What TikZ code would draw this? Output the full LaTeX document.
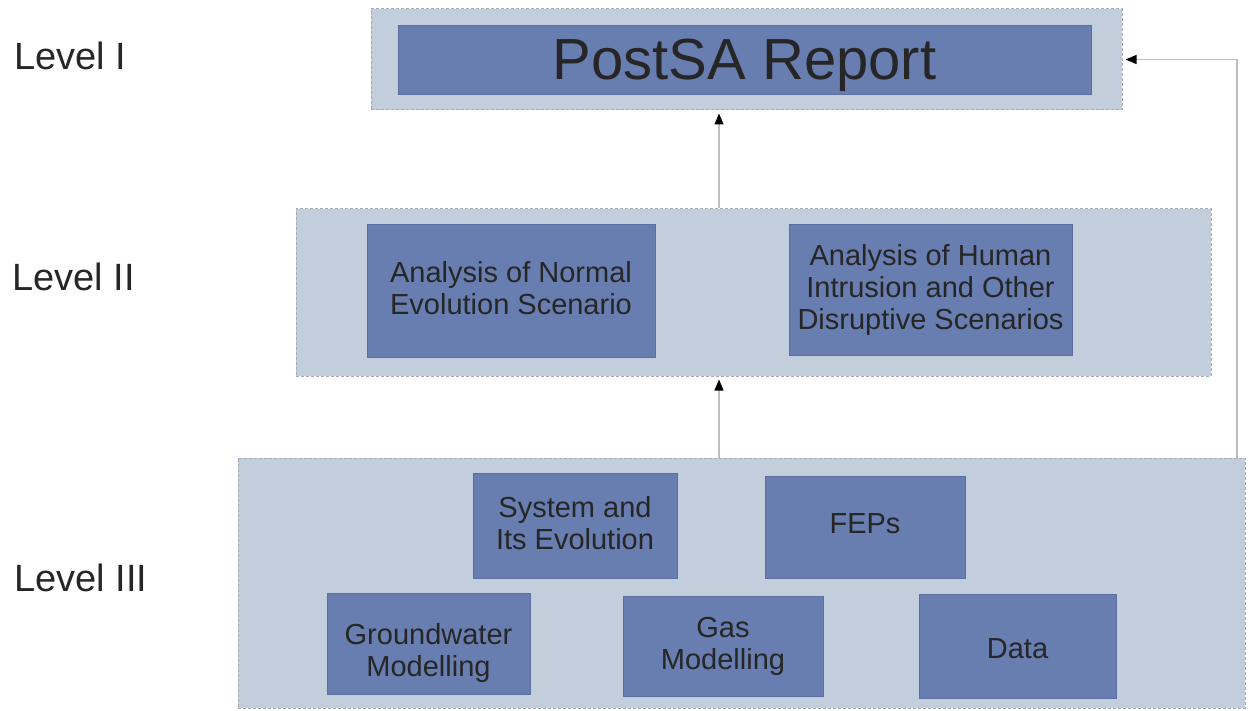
\documentclass[tikz,border=0pt]{standalone}
\usepackage{fontspec}
\setmainfont{Liberation Sans}
\usepackage{tikz}
\usetikzlibrary{arrows.meta}
\definecolor{panel}{HTML}{C3CEDD}
\definecolor{panelrule}{HTML}{A3ABB8}
\definecolor{task}{HTML}{687DB0}
\definecolor{taskrule}{HTML}{5A6E9F}
\definecolor{ink}{HTML}{262626}
\tikzset{panel/.style={draw=panelrule, fill=panel, dash pattern=on 1.5pt off 1pt, line width=0.5pt, rectangle, inner sep=0pt},
  rise/.store in=\taskrise,
  task/.style={draw=taskrule, fill=task, rectangle, inner sep=0pt, align=center, text=ink, font=\fontsize{14.5}{16}\selectfont,
    rise=13pt, execute at begin node={\rule{0pt}{\taskrise}}, text depth=3pt},
  lvl/.style={anchor=west, inner sep=0pt, text=ink, font=\fontsize{19}{22}\selectfont},
  conn/.style={draw=black!26, line width=0.6pt, -{Triangle[length=5.5pt,width=4.5pt,black]}, shorten >=1.5pt}}

\begin{document}
\begin{tikzpicture}[x=0.5pt, y=-0.5pt]
      \useasboundingbox (0,0) rectangle (1248,711);
      \node [panel, minimum width=375.5pt, minimum height=50.5pt] (lvI) at (746.5,59.5) {};
      \node [panel, minimum width=457.5pt, minimum height=83.5pt] (lvII) at (753.5,292.5) {};
      \node [panel, minimum width=503.5pt, minimum height=125pt] (lvIII) at (741.5,583) {};
      \node [task, minimum width=346.5pt, minimum height=34.5pt, font=\fontsize{29}{32}\selectfont,
        rise=26.2pt, text depth=6.1pt] (report) at (744.5,59.5) {PostSA Report};
      \node [task, minimum width=144pt, minimum height=66.5pt] (normal) at (511,290.5) {Analysis of Normal\\Evolution Scenario};
      \node [task, minimum width=141.5pt, minimum height=65.5pt] (human) at (930.5,289.5) {Analysis of Human\\Intrusion and Other\\Disruptive Scenarios};
      \node [task, minimum width=102pt, minimum height=52.5pt] (system) at (575,525.5) {System and\\Its Evolution};
      \node [task, minimum width=100pt, minimum height=51pt, rise=8pt] (feps) at (865,527) {FEPs};
      \node [task, minimum width=101.5pt, minimum height=50.5pt] (ground) at (428.5,643.5) {\rule{0pt}{20pt}Groundwater\\Modelling};
      \node [task, minimum width=100pt, minimum height=50pt] (gas) at (723,646) {Gas\\Modelling};
      \node [task, minimum width=98.5pt, minimum height=52pt, rise=15.5pt] (data) at (1017.5,646) {Data};
      \node [lvl] (labI) at (14,56) {Level I};
      \node [lvl] (labII) at (12,277) {Level II};
      \node [lvl] (labIII) at (14,578) {Level III};
      \coordinate (spine) at (719,0);
      \coordinate (side) at (1237,0);
      \draw [conn] (lvII.north -| spine) -- (lvI.south -| spine);
      \draw [conn] (lvIII.north -| spine) -- (lvII.south -| spine);
      \draw [conn] (lvIII.north -| side) |- (lvI.east);
    \end{tikzpicture}
\end{document}
